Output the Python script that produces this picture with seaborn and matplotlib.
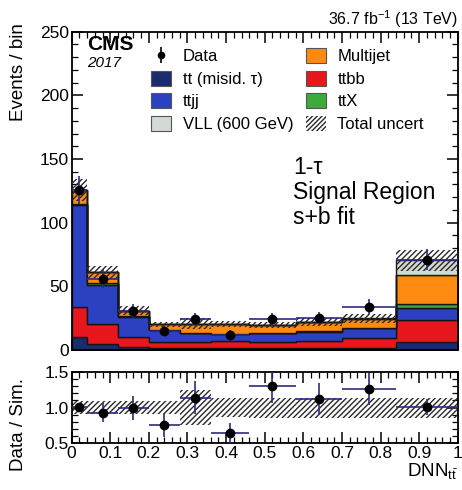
import numpy as np
import pandas as pd
import matplotlib
matplotlib.use("Agg")
import matplotlib.pyplot as plt
from matplotlib.patches import Patch
from matplotlib.lines import Line2D
from matplotlib.ticker import MultipleLocator, FormatStrFormatter, FuncFormatter
import seaborn as sns

# ---------------- data ----------------
bin_edges = [0.0, 0.04, 0.12, 0.20, 0.28, 0.36, 0.46, 0.58, 0.70, 0.84, 1.0]

tt_misid = [10.0, 5.0, 2.6, 1.5, 1.5, 1.5, 1.5, 1.5, 1.5, 6.5]
ttbb = [23.5, 15.8, 7.8, 5.0, 5.0, 5.5, 5.0, 5.8, 7.6, 17.0]
ttjj = [80.0, 30.0, 15.6, 9.1, 6.5, 5.2, 6.5, 7.0, 7.9, 9.2]
ttx = [1.5, 1.5, 0.5, 0.3, 0.3, 0.3, 0.3, 0.3, 0.4, 3.2]
multijet = [10.5, 8.7, 4.5, 4.4, 7.5, 7.8, 6.2, 7.4, 7.3, 22.8]
vll = [0.0, 0.0, 0.0, 0.0, 0.0, 0.0, 0.0, 0.0, 0.3, 11.7]
total_unc = [8.5, 5.0, 3.4, 2.0, 4.5, 2.5, 2.5, 3.0, 3.5, 8.5]

data_counts = [126, 56, 31, 15, 24, 12, 24, 25, 34, 71]
data_err = [11, 7.5, 5.5, 4, 5, 3.5, 5, 5, 6, 8.5]

ratio_vals = [1.01, 0.93, 0.99, 0.76, 1.14, 0.64, 1.30, 1.12, 1.26, 1.01]
ratio_err = [0.05, 0.13, 0.17, 0.17, 0.23, 0.15, 0.23, 0.22, 0.22, 0.11]
ratio_band = [0.09, 0.09, 0.09, 0.09, 0.25, 0.13, 0.14, 0.14, 0.14, 0.14]

processes = ["VLL (600 GeV)", "Multijet", "ttX", "ttjj", "ttbb", "tt (misid. \u03c4)"]
process_values = [vll, multijet, ttx, ttjj, ttbb, tt_misid]
colors = {
    "tt (misid. \u03c4)": "#1c2b6e",
    "ttjj": "#2c40c2",
    "VLL (600 GeV)": "#d3d9d3",
    "Multijet": "#ff8a12",
    "ttbb": "#e8161d",
    "ttX": "#3cab3c",
}

# ---------------- style ----------------
sns.set_theme(style="ticks")
plt.rcParams["font.family"] = ["Liberation Sans", "DejaVu Sans"]
plt.rcParams["hatch.linewidth"] = 1.0
plt.rcParams["mathtext.fontset"] = "custom"
plt.rcParams["mathtext.rm"] = "Liberation Sans"
plt.rcParams["mathtext.it"] = "Liberation Sans:italic"
for k in ["text.color", "axes.labelcolor", "xtick.color", "ytick.color", "axes.edgecolor"]:
    plt.rcParams[k] = "black"

edges = np.array(bin_edges)
centers = (edges[:-1] + edges[1:]) / 2
halfw = (edges[1:] - edges[:-1]) / 2

rows = []
for name, vals in zip(processes, process_values):
    for c, v in zip(centers, vals):
        rows.append({"x": c, "w": v, "proc": name})
df = pd.DataFrame(rows)

fig = plt.figure(figsize=(4.62, 4.9), dpi=100)
ax = fig.add_axes([0.155, 0.2857, 0.836, 0.6496])
axr = fig.add_axes([0.155, 0.0953, 0.836, 0.146])

sns.histplot(data=df, x="x", weights="w", hue="proc", hue_order=processes,
             palette=colors, bins=bin_edges, multiple="stack", element="step",
             fill=True, alpha=1, edgecolor="#151515", linewidth=1.0,
             legend=False, ax=ax)

total = np.sum(np.array(process_values), axis=0)
unc = np.array(total_unc)
lo = np.append(total - unc, (total - unc)[-1])
hi = np.append(total + unc, (total + unc)[-1])
ax.fill_between(edges, lo, hi, step="post", facecolor="none",
                edgecolor="#2a2a2a", hatch="//////", linewidth=0, zorder=5)

ecol = "#2b2b80"
ax.errorbar(centers, data_counts, xerr=halfw, yerr=data_err, fmt="o",
            color="black", ecolor=ecol, elinewidth=1.2, markersize=6,
            capsize=0, zorder=10)

ax.set_xlim(0, 1)
ax.set_ylim(0, 250)
ax.set_xlabel("")
ax.set_ylabel("")
ax.yaxis.set_major_locator(MultipleLocator(50))
ax.yaxis.set_minor_locator(MultipleLocator(10))
ax.xaxis.set_major_locator(MultipleLocator(0.1))
ax.xaxis.set_minor_locator(MultipleLocator(0.02))
ax.tick_params(axis="x", labelbottom=False)

# ratio panel
rlo = np.append(1 - np.array(ratio_band), 1 - ratio_band[-1])
rhi = np.append(1 + np.array(ratio_band), 1 + ratio_band[-1])
axr.fill_between(edges, rlo, rhi, step="post", facecolor="none",
                 edgecolor="#2a2a2a", hatch="//////", linewidth=0, zorder=2)
axr.errorbar(centers, ratio_vals, xerr=halfw, yerr=ratio_err, fmt="o",
             color="black", ecolor=ecol, elinewidth=1.2, markersize=6,
             capsize=0, zorder=10)
axr.set_xlim(0, 1)
axr.set_ylim(0.5, 1.5)
axr.xaxis.set_major_locator(MultipleLocator(0.1))
axr.xaxis.set_minor_locator(MultipleLocator(0.02))
axr.yaxis.set_major_locator(MultipleLocator(0.5))
axr.yaxis.set_minor_locator(MultipleLocator(0.1))
axr.xaxis.set_major_formatter(FuncFormatter(lambda v, p: f"{v:g}"))
axr.yaxis.set_major_formatter(FormatStrFormatter("%.1f"))
axr.set_xlabel(r"DNN$_{\mathrm{t\bar{t}}}$", loc="right", fontsize=13.5, labelpad=0)

for a in (ax, axr):
    for s in a.spines.values():
        s.set_linewidth(1.3)
        s.set_color("black")
    a.tick_params(which="both", direction="in", top=True, right=True,
                  labelsize=12.5, colors="black", pad=2)
    a.tick_params(which="major", length=8, width=1.1)
    a.tick_params(which="minor", length=4, width=0.9)

# labels
fig.text(0.04, 0.952, "Events / bin", rotation=90, ha="center", va="top",
         fontsize=13.5)
fig.text(0.04, 0.133, "Data / Sim.", rotation=90, ha="center", va="center",
         fontsize=13.5)

ax.text(1.0, 1.004, r"36.7 fb$^{-1}$ (13 TeV)", transform=ax.transAxes,
        ha="right", va="bottom", fontsize=11.5)
ax.text(0.04, 0.99, "CMS", transform=ax.transAxes, ha="left", va="top",
        fontsize=15, fontweight="bold")
ax.text(0.04, 0.925, "2017", transform=ax.transAxes, ha="left", va="top",
        fontsize=11, style="italic")
ax.text(0.573, 0.61, "1-\u03c4\nSignal Region\ns+b fit", transform=ax.transAxes,
        ha="left", va="top", fontsize=16.5, linespacing=1.12)

# legend
data_handle = (Line2D([], [], color="black", marker="|", markersize=11,
                      linestyle="none", mew=1.2),
               Line2D([], [], color="black", marker="o", markersize=4.5,
                      linestyle="none"))
def patch(name):
    return Patch(facecolor=colors[name], edgecolor="#555555", linewidth=0.8)
handles = [data_handle, patch("tt (misid. \u03c4)"), patch("ttjj"),
           patch("VLL (600 GeV)"), patch("Multijet"), patch("ttbb"),
           patch("ttX"),
           Patch(facecolor="white", edgecolor="#2a2a2a", hatch="///////", linewidth=0)]
labels = ["Data", "tt (misid. \u03c4)", "ttjj", "VLL (600 GeV)", "Multijet",
          "ttbb", "ttX", "Total uncert"]
leg = ax.legend(handles, labels, ncol=2, loc="upper left",
                bbox_to_anchor=(0.175, 0.985), frameon=False, fontsize=12,
                handlelength=1.2, handleheight=1.0, handletextpad=0.7,
                columnspacing=0.75, labelspacing=0.38, borderpad=0.2)

fig.savefig("out.png", dpi=100)
